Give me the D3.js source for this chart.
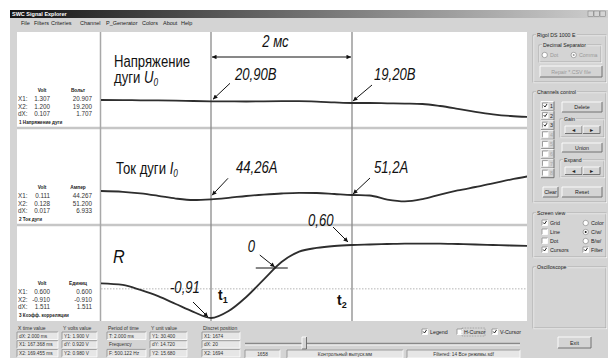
<!DOCTYPE html>
<html><head><meta charset="utf-8">
<script src="https://cdn.jsdelivr.net/npm/d3@7"></script>
<style>
body{margin:0;background:#fff;}
svg{display:block;}
text{font-family:"Liberation Sans",Arial,sans-serif;}
</style></head><body>
<svg id="c" width="608" height="358"></svg>
<script>
// ---------------- DATA ----------------
const timeMs      = [-1.6,-1.25,-1.0,-0.75,-0.5,-0.25,0,0.25,0.5,0.75,1.0,1.25,1.5,1.75,2.0,2.25,2.5,2.75,3.0,3.25,3.5,3.75,4.0,4.25,4.5];
const arcVoltage  = [22.2,22.1,21.9,21.8,21.6,21.2,20.9,20.8,20.7,20.9,21.0,21.0,20.6,19.8,19.2,19.2,18.9,18.6,18.2,16.2,13.4,10.4,7.9,6.2,5.2];
const arcCurrent  = [57.7,56.4,53.8,49.9,45.5,43.1,44.26,46.7,49.6,51.8,53.6,54.6,54.4,52.8,51.2,50.4,43.9,41.0,44.7,52.0,58.5,64.1,69.8,76.2,81.4];
const correlation = [-0.29,-0.32,-0.41,-0.52,-0.66,-0.80,-0.91,-0.785,-0.535,-0.22,0.136,0.42,0.52,0.573,0.60,0.614,0.627,0.64,0.64,0.64,0.627,0.614,0.60,0.586,0.573];
const cursorTimes = [0, 2];
const corrReference = -0.39;
const spanLabel = "2 мс";
const channelTitles = ["Напряжение", "Ток дуги", "R"];
const annotLabels = ["20,90В","19,20В","44,26А","51,2А","0,60","0","-0,91"];
const legendUnits = ["Вольт","Ампер","Единиц"];
const legendNames = ["Напряжение дуги","Ток дуги","Коэфф. корреляции"];
const legendX1 = [["1.307","20.907"],["0.111","44.267"],["0.600","0.600"]];
const legendX2 = [["1.200","19.200"],["0.128","51.200"],["-0.910","-0.910"]];
const legendDX = [["0.107","1.707"],["0.017","6.933"],["1.511","1.511"]];
const menuItems = ["File","Filters","Criteries","Channel","P_Generator","Colors","About","Help"];
const bottomHeads = ["X time value","Y volts value","Period of time","Y unit value","Discret position"];
const bottomRows = [
  ["dX: 2.000 ms","X1: 167.368 ms","X2: 169.455 ms"],
  ["Y1: 1.900 V","dY: 0.920 V","Y2: 0.980 V"],
  ["T: 2.000 ms","Frequency","F: 500.122 Hz"],
  ["Y1: 30.400","dY: 14.720","Y2: 15.680"],
  ["X1: 1674","dX: 20","X2: 1694"]
];
const statusTexts = ["1658","Контрольный выпуск.мм","Filtered: 14 Все режимы.sdf"];
const channelNums = ["1","2","3","4","5","6","7","8"];
const channelChecked = [true,true,true,false,false,false,false,false];

// ---------------- SETUP ----------------
const svg = d3.select("#c");
const defs = svg.append("defs");
const tg = defs.append("linearGradient").attr("id","tg");
tg.append("stop").attr("offset","0").attr("stop-color","#151515");
tg.append("stop").attr("offset","1").attr("stop-color","#cfcfcf");
defs.append("marker").attr("id","ah").attr("viewBox","0 0 10 10").attr("refX",10).attr("refY",5)
  .attr("markerWidth",6).attr("markerHeight",4.5).attr("orient","auto-start-reverse")
  .append("path").attr("d","M0,0L10,5L0,10z").attr("fill","#111");
defs.append("clipPath").attr("id","plotclip").append("rect").attr("x",101).attr("y",32).attr("width",426).attr("height",289);

const BG = "#d4d4d4";
svg.append("rect").attr("width",608).attr("height",358).attr("fill","#fff");
svg.append("rect").attr("x",10).attr("y",10).attr("width",598).attr("height",348).attr("fill",BG);
// title bar
svg.append("rect").attr("x",10).attr("y",10).attr("width",598).attr("height",8).attr("fill","url(#tg)");
svg.append("text").attr("x",12).attr("y",16).attr("font-size",5.5).attr("font-weight","bold").attr("fill","#fff").text("SWC Signal Explorer");
[588,594,600].forEach((bx,i)=>{
  svg.append("rect").attr("x",bx).attr("y",11).attr("width",5.5).attr("height",5.5).attr("fill",BG).attr("stroke","#777").attr("stroke-width",0.5);
});
// menu
const menuX = [21,34,51,80,106,142,163,181];
menuItems.forEach((m,i)=>svg.append("text").attr("x",menuX[i]).attr("y",25).attr("font-size",5.5).attr("fill","#222").text(m));

// plot white area
svg.append("rect").attr("x",17).attr("y",32).attr("width",510).attr("height",289).attr("fill","#fff");

// ---------------- SCALES ----------------
const x  = d3.scaleLinear().domain([0,2]).range([211,352]);
const yU = d3.scaleLinear().domain([20.9,19.2]).range([101.3,103]);
const yI = d3.scaleLinear().domain([44.26,51.2]).range([199.3,195]);
const yR = d3.scaleLinear().domain([-0.91,0,0.6]).range([318,267,245]);

// separators
[128,225].forEach(yy=>svg.append("line").attr("x1",17).attr("x2",527).attr("y1",yy).attr("y2",yy).attr("stroke","#c6c6c6").attr("stroke-width",2.5));
svg.append("line").attr("x1",100.5).attr("x2",100.5).attr("y1",32).attr("y2",321).attr("stroke","#a8a8a8").attr("stroke-width",1.5);
// reference dotted line in R channel
svg.append("line").attr("x1",101).attr("x2",527).attr("y1",yR(corrReference)).attr("y2",yR(corrReference))
  .attr("stroke","#b5b5b5").attr("stroke-width",1).attr("stroke-dasharray","1.5,1.5");
// cursors
cursorTimes.forEach(t=>svg.append("line").attr("x1",x(t)).attr("x2",x(t)).attr("y1",32).attr("y2",321).attr("stroke","#8a8a8a").attr("stroke-width",1.3));

// signal lines
const series = [[arcVoltage,yU],[arcCurrent,yI],[correlation,yR]];
const g = svg.append("g").attr("clip-path","url(#plotclip)");
series.forEach(([vals,ys])=>{
  const line = d3.line().x((d,i)=>x(timeMs[i])).y(d=>ys(d)).curve(d3.curveMonotoneX);
  g.append("path").attr("d",line(vals)).attr("fill","none").attr("stroke","#2e2e2e").attr("stroke-width",1.8);
});

// ---------------- ANNOTATIONS ----------------
// condensed annotation text (narrow face emulated by horizontal scaling)
function ntext(x0,y0,size,italic,anchor){
  return svg.append("text").attr("transform",`translate(${x0},${y0}) scale(0.82,1)`)
    .attr("font-size",size).attr("font-style",italic?"italic":"normal")
    .attr("text-anchor",anchor||"start").attr("fill","#111");
}
// span arrow
svg.append("line").attr("x1",x(0)+1).attr("x2",x(2)-1).attr("y1",57).attr("y2",57).attr("stroke","#111").attr("stroke-width",1)
  .attr("marker-start","url(#ah)").attr("marker-end","url(#ah)");
ntext((x(0)+x(2))/2-6,47,16,true,"middle").text(spanLabel);

// titles
ntext(114,67,16,false).text(channelTitles[0]);
const t1b = ntext(114,83,16,false);
t1b.append("tspan").text("дуги ");
t1b.append("tspan").attr("font-style","italic").text("U");
t1b.append("tspan").attr("font-style","italic").attr("font-size",10).attr("dy",3).text("0");
const t2 = ntext(116,174,16,false);
t2.append("tspan").text(channelTitles[1]+" ");
t2.append("tspan").attr("font-style","italic").text("I");
t2.append("tspan").attr("font-style","italic").attr("font-size",10).attr("dy",3).text("0");
svg.append("text").attr("transform","translate(113,263) scale(0.9,1)").attr("font-style","italic").attr("font-size",18).attr("fill","#111").text(channelTitles[2]);

function tZero(){ // where correlation crosses zero
  for(let i=1;i<correlation.length;i++){
    if(correlation[i-1]<0 && correlation[i]>=0){
      const f = -correlation[i-1]/(correlation[i]-correlation[i-1]);
      return timeMs[i-1]+f*(timeMs[i]-timeMs[i-1]);
    }
  }
}
const i0 = timeMs.indexOf(cursorTimes[0]), i2 = timeMs.indexOf(cursorTimes[1]);
const tz = tZero();
// [label, tip x, tip y, tail dx, tail dy, text dx, text dy]
const ann = [
  [annotLabels[0], x(0)+2, yU(arcVoltage[i0])-2, 17,-16, 22,-19],
  [annotLabels[1], x(2)+1, yU(arcVoltage[i2])-2, 19,-16, 21,-21],
  [annotLabels[2], x(0)+1, yI(arcCurrent[i0])-4, 16,-17, 24,-22],
  [annotLabels[3], x(2)+1, yI(arcCurrent[i2])-1, 17,-16, 21,-21],
  [annotLabels[4], x(2)-4, yR(correlation[i2])-3, -15,-15, -40,-16],
  [annotLabels[5], x(tz), yR(0), -15,-12, -27,-15],
  [annotLabels[6], x(0)-3, yR(correlation[i0])-1, -15,-15, -38,-24]
];
ann.forEach(([lab,tx,ty,dx,dy,ox,oy])=>{
  svg.append("line").attr("x1",tx+dx).attr("y1",ty+dy).attr("x2",tx).attr("y2",ty).attr("stroke","#111").attr("stroke-width",1).attr("marker-end","url(#ah)");
  ntext(tx+ox,ty+oy,16,true).text(lab);
});
// zero tick
svg.append("line").attr("x1",x(tz)-19).attr("x2",x(tz)+13).attr("y1",yR(0)+1).attr("y2",yR(0)+1).attr("stroke","#111").attr("stroke-width",1);
// t1 t2
[[cursorTimes[0],"1",7,300],[cursorTimes[1],"2",-15,305]].forEach(([t,s,ox,yy])=>{
  const tt = svg.append("text").attr("x",x(t)+ox).attr("y",yy).attr("font-size",14).attr("font-weight","bold").attr("fill","#111");
  tt.append("tspan").text("t");
  tt.append("tspan").attr("font-size",9).attr("dy",3).text(s);
});

// ---------------- LEGENDS (left) ----------------
const panelBottoms = [128,225,321];
panelBottoms.forEach((pb,c)=>{
  svg.append("text").attr("x",42).attr("y",pb-36).attr("text-anchor","middle").attr("font-size",4.8).attr("font-weight","bold").attr("fill","#222").text("Volt");
  svg.append("text").attr("x",78).attr("y",pb-36).attr("text-anchor","middle").attr("font-size",4.8).attr("font-weight","bold").attr("fill","#222").text(legendUnits[c]);
  [["X1:",legendX1[c]],["X2:",legendX2[c]],["dX:",legendDX[c]]].forEach(([k,v],r)=>{
    const yy = pb-27+r*7.5;
    svg.append("text").attr("x",18).attr("y",yy).attr("font-family","Liberation Mono,monospace").attr("font-size",6.3).attr("fill","#333").text(k);
    svg.append("text").attr("x",50).attr("y",yy).attr("text-anchor","end").attr("font-family","Liberation Mono,monospace").attr("font-size",6.3).attr("fill","#333").text(v[0]);
    svg.append("text").attr("x",92).attr("y",yy).attr("text-anchor","end").attr("font-family","Liberation Mono,monospace").attr("font-size",6.3).attr("fill","#333").text(v[1]);
  });
  svg.append("text").attr("x",19).attr("y",pb-4).attr("font-size",4.6).attr("font-weight","bold").attr("fill","#222").text((c+1)+"  "+legendNames[c]);
});

// ---------------- UI helpers ----------------
function sunken(x0,y0,w,h,fill){
  svg.append("rect").attr("x",x0).attr("y",y0).attr("width",w).attr("height",h).attr("fill",fill||"#e6e6e6");
  svg.append("path").attr("d",`M${x0},${y0+h}V${y0}H${x0+w}`).attr("fill","none").attr("stroke","#8a8a8a").attr("stroke-width",0.8);
  svg.append("path").attr("d",`M${x0},${y0+h}H${x0+w}V${y0}`).attr("fill","none").attr("stroke","#fff").attr("stroke-width",0.8);
}
function button(x0,y0,w,h,label,color){
  svg.append("rect").attr("x",x0).attr("y",y0).attr("width",w).attr("height",h).attr("fill",BG);
  svg.append("path").attr("d",`M${x0},${y0+h}V${y0}H${x0+w}`).attr("fill","none").attr("stroke","#fff").attr("stroke-width",0.9);
  svg.append("path").attr("d",`M${x0},${y0+h}H${x0+w}V${y0}`).attr("fill","none").attr("stroke","#666").attr("stroke-width",0.9);
  if(label) svg.append("text").attr("x",x0+w/2).attr("y",y0+h/2+2).attr("text-anchor","middle").attr("font-size",5.3).attr("fill",color||"#222").text(label);
}
function group(x0,y0,w,h,label){
  svg.append("rect").attr("x",x0).attr("y",y0).attr("width",w).attr("height",h).attr("fill","none").attr("stroke","#999").attr("stroke-width",0.7);
  svg.append("rect").attr("x",x0+0.8).attr("y",y0+0.8).attr("width",w).attr("height",h).attr("fill","none").attr("stroke","#fff").attr("stroke-width",0.6);
  const t = svg.append("text").attr("x",x0+4).attr("y",y0+2).attr("font-size",5.2).attr("fill","#222").text(label);
  const bb = t.node().getBBox();
  svg.insert("rect","text:last-of-type").attr("x",bb.x-1).attr("y",y0-1.5).attr("width",bb.width+2).attr("height",3.5).attr("fill",BG);
  t.raise();
}
function checkbox(x0,y0,checked,label,lx){
  sunken(x0,y0-3,5.5,5.5,"#fff");
  if(checked) svg.append("path").attr("d",`M${x0+1.2},${y0-0.5}L${x0+2.5},${y0+1}L${x0+4.5},${y0-2}`).attr("fill","none").attr("stroke","#111").attr("stroke-width",0.9);
  if(label) svg.append("text").attr("x",lx||x0+8).attr("y",y0+2).attr("font-size",5.3).attr("fill","#222").text(label);
}
function radio(x0,y0,sel,label,col){
  svg.append("circle").attr("cx",x0+2.7).attr("cy",y0).attr("r",2.7).attr("fill","#fff").attr("stroke","#888").attr("stroke-width",0.7);
  if(sel) svg.append("circle").attr("cx",x0+2.7).attr("cy",y0).attr("r",1).attr("fill",col||"#111");
  svg.append("text").attr("x",x0+8).attr("y",y0+2).attr("font-size",5.3).attr("fill",col||"#222").text(label);
}

// ---------------- RIGHT PANEL ----------------
group(533,35,73,47,"Rigol DS 1000 E");
group(539,45,62,17,"Decimal Separator");
radio(542,55,false,"Dot","#999");
radio(571,55,true,"Comma","#999");
button(540,66,62,11,"Repair *.CSV file","#999");
group(533,92,73,110,"Channels control");
channelNums.forEach((n,i)=>{
  const yy = 106+i*9.6;
  button(541,yy-4.5,13,9,null);
  checkbox(542.5,yy,channelChecked[i],null);
  svg.append("text").attr("x",550).attr("y",yy+2).attr("font-size",5.3).attr("fill",channelChecked[i]?"#222":"#aaa").text(n);
});
button(562,102,40,10,"Delete");
group(560,119,44,18,"Gain");
button(565,126,17,7.5,"◄"); button(583,126,17,7.5,"►");
button(562,143,40,9,"Union");
group(560,160,44,17,"Expand");
button(565,167,17,7.5,"◄"); button(583,167,17,7.5,"►");
button(543,187,15,10,"Clear");
button(562,187,40,10,"Reset");
group(533,213,73,44,"Screen view");
[["Grid",true],["Line",false],["Dot",false],["Cursors",true]].forEach(([l,c],i)=>checkbox(542,223+i*9,c,l));
radio(583,223,false,"Color");
radio(583,232,true,"C/w/");
radio(583,241,false,"B/w/");
checkbox(583,250,true,"Filter");
group(533,267,73,61,"Oscilloscope");
button(558,337,33,11,"Exit");

// ---------------- BOTTOM PANEL ----------------
const colX = [17,62,107,150,202];
const colW = [41,35,39,37,38];
bottomHeads.forEach((h,c)=>{
  svg.append("text").attr("x",colX[c]+1).attr("y",329.5).attr("font-size",5).attr("fill","#333").text(h);
  bottomRows[c].forEach((r,j)=>{
    const yy = 332+j*8.7;
    if(!(c===2 && j===1)) sunken(colX[c],yy,colW[c],7.5);
    svg.append("text").attr("x",colX[c]+2).attr("y",yy+5.5).attr("font-size",4.8).attr("fill","#333").text(r);
  });
});
// slider
svg.append("line").attr("x1",245).attr("x2",520).attr("y1",343.5).attr("y2",343.5).attr("stroke","#888").attr("stroke-width",1.5);
svg.append("line").attr("x1",245).attr("x2",520).attr("y1",345).attr("y2",345).attr("stroke","#fff").attr("stroke-width",0.8);
button(302,337,4.5,12,null);
// check options
checkbox(422,332,true,"Legend");
checkbox(457,332,false,null);
svg.append("rect").attr("x",462).attr("y",328).attr("width",23).attr("height",8).attr("fill","none").attr("stroke","#666").attr("stroke-width",0.5).attr("stroke-dasharray","0.8,0.8");
svg.append("text").attr("x",464).attr("y",334).attr("font-size",5.3).attr("fill","#222").text("H-Cursor");
checkbox(492,332,true,"V-Cursor");
// status row
[[245,35],[287,116],[407,113]].forEach(([sx,sw],i)=>{
  sunken(sx,350,sw,8);
  svg.append("text").attr("x",sx+sw/2).attr("y",355.5).attr("text-anchor","middle").attr("font-size",4.8).attr("fill","#333").text(statusTexts[i]);
});
</script>
</body></html>
